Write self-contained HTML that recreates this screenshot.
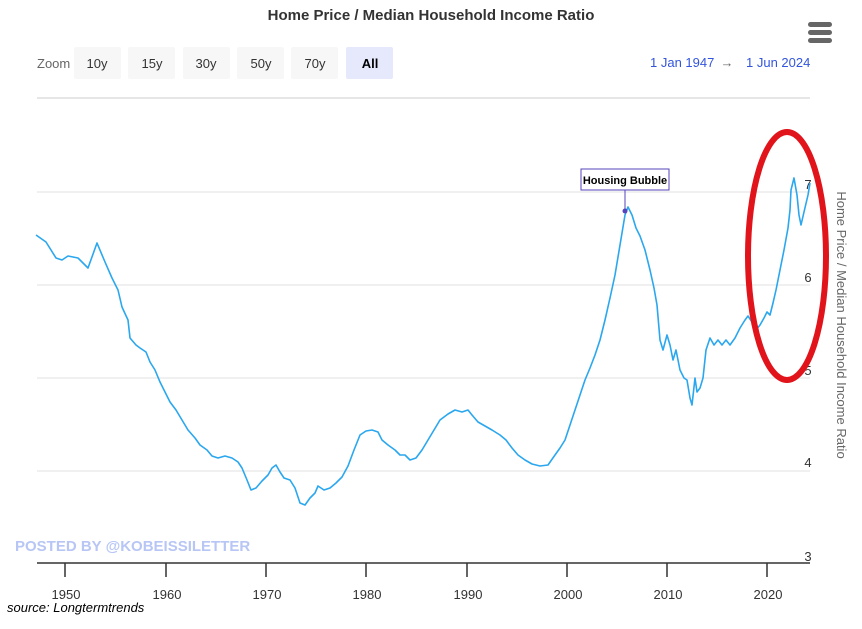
<!DOCTYPE html>
<html><head><meta charset="utf-8"><style>
body{margin:0;background:#fff;width:862px;height:624px;overflow:hidden;font-family:"Liberation Sans",sans-serif}
</style></head><body>
<svg width="862" height="624" xmlns="http://www.w3.org/2000/svg" font-family="Liberation Sans, sans-serif">
<text x="431" y="20" text-anchor="middle" font-size="15" font-weight="bold" fill="#333">Home Price / Median Household Income Ratio</text>
<g fill="#666"><rect x="808" y="22" width="24" height="5" rx="2.5"/><rect x="808" y="30" width="24" height="5" rx="2.5"/><rect x="808" y="38" width="24" height="5" rx="2.5"/></g>
<text x="37" y="68" font-size="13" fill="#666">Zoom</text>
<g font-size="13" fill="#333" text-anchor="middle">
<rect x="74" y="47" width="47" height="32" rx="2" fill="#f7f7f7"/><text x="97" y="68">10y</text>
<rect x="128" y="47" width="47" height="32" rx="2" fill="#f7f7f7"/><text x="152" y="68">15y</text>
<rect x="183" y="47" width="47" height="32" rx="2" fill="#f7f7f7"/><text x="206" y="68">30y</text>
<rect x="237" y="47" width="47" height="32" rx="2" fill="#f7f7f7"/><text x="261" y="68">50y</text>
<rect x="291" y="47" width="47" height="32" rx="2" fill="#f7f7f7"/><text x="315" y="68">70y</text>
<rect x="346" y="47" width="47" height="32" rx="2" fill="#e6e9fc"/><text x="370" y="68" font-weight="bold" fill="#000">All</text>
</g>
<text x="650" y="67" font-size="13" fill="#3355dd">1 Jan 1947</text>
<text x="727" y="67" font-size="13" fill="#666" text-anchor="middle">→</text>
<text x="746" y="67" font-size="13" fill="#3355dd">1 Jun 2024</text>
<line x1="37" y1="98" x2="810" y2="98" stroke="#e6e6e6" stroke-width="2"/>
<g stroke="#e6e6e6" stroke-width="1.3">
<line x1="37" y1="192" x2="810" y2="192"/><line x1="37" y1="285" x2="810" y2="285"/><line x1="37" y1="378" x2="810" y2="378"/><line x1="37" y1="471" x2="810" y2="471"/>
</g>
<g font-size="13" fill="#333" text-anchor="middle">
<text x="808" y="189">7</text><text x="808" y="282">6</text><text x="808" y="375">5</text><text x="808" y="467">4</text><text x="808" y="561">3</text>
</g>
<text transform="translate(837,325) rotate(90)" text-anchor="middle" font-size="13" fill="#666">Home Price / Median Household Income Ratio</text>
<line x1="37" y1="563" x2="810" y2="563" stroke="#333" stroke-width="1.5"/>
<g stroke="#333" stroke-width="1.5"><line x1="65" y1="563" x2="65" y2="577"/><line x1="166" y1="563" x2="166" y2="577"/><line x1="266" y1="563" x2="266" y2="577"/><line x1="366" y1="563" x2="366" y2="577"/><line x1="467" y1="563" x2="467" y2="577"/><line x1="567" y1="563" x2="567" y2="577"/><line x1="667" y1="563" x2="667" y2="577"/><line x1="767" y1="563" x2="767" y2="577"/></g>
<g font-size="13" fill="#333" text-anchor="middle"><text x="66" y="599">1950</text><text x="167" y="599">1960</text><text x="267" y="599">1970</text><text x="367" y="599">1980</text><text x="468" y="599">1990</text><text x="568" y="599">2000</text><text x="668" y="599">2010</text><text x="768" y="599">2020</text></g>
<text x="7" y="612" font-size="13" font-style="italic" fill="#000">source: Longtermtrends</text>
<text x="15" y="551" font-size="15" font-weight="bold" fill="#b7c6f5">POSTED BY @KOBEISSILETTER</text>
<polyline fill="none" stroke="#2aa7ee" stroke-width="1.6" stroke-linejoin="round" points="36,235 46,242 56,258 62,260 68,256 78,258 88,268 97,243 105,262 112,278 118,290 122,307 128,320 130,338 136,345 140,348 146,352 150,362 155,370 160,382 165,392 170,402 176,410 182,420 188,430 195,438 200,445 207,450 212,456 218,458 225,456 232,458 238,462 242,468 247,480 251,490 256,488 262,481 268,475 272,468 276,465 280,472 284,478 290,480 295,488 300,503 305,505 310,498 315,493 318,486 324,490 330,488 336,483 342,477 348,466 354,450 360,435 366,431 372,430 378,432 382,440 388,445 395,450 400,455 405,455 410,460 416,458 422,450 428,440 434,430 440,420 448,414 455,410 462,412 468,410 472,415 478,422 485,426 492,430 500,435 506,440 512,448 518,455 525,460 532,464 540,466 548,465 555,455 560,448 565,440 570,425 575,410 580,395 585,380 590,368 595,355 600,340 605,320 610,298 615,275 620,245 625,215 628,207 632,215 636,228 640,236 645,250 650,270 654,288 657,305 660,340 663,350 667,335 670,345 673,360 676,350 680,370 684,378 687,380 690,398 692,405 695,378 697,392 700,388 703,378 706,350 710,338 714,345 718,340 722,345 726,340 730,345 735,338 740,328 745,320 748,316 752,322 756,330 760,325 764,318 767,312 770,315 773,303 776,290 780,270 784,250 788,228 790,210 791,190 794,178 797,195 799,215 801,225 804,212 808,195 810,183"/>
<line x1="625" y1="190" x2="625" y2="211" stroke="#5544bb" stroke-width="1"/>
<circle cx="625" cy="211" r="2.5" fill="#5544bb"/>
<rect x="581" y="169" width="88" height="21" fill="#fff" stroke="#5544bb" stroke-width="1"/>
<text x="625" y="184" text-anchor="middle" font-size="11" font-weight="bold" fill="#000">Housing Bubble</text>
<ellipse cx="787" cy="256" rx="39" ry="124" fill="none" stroke="#e0141a" stroke-width="6"/>
</svg>
</body></html>
